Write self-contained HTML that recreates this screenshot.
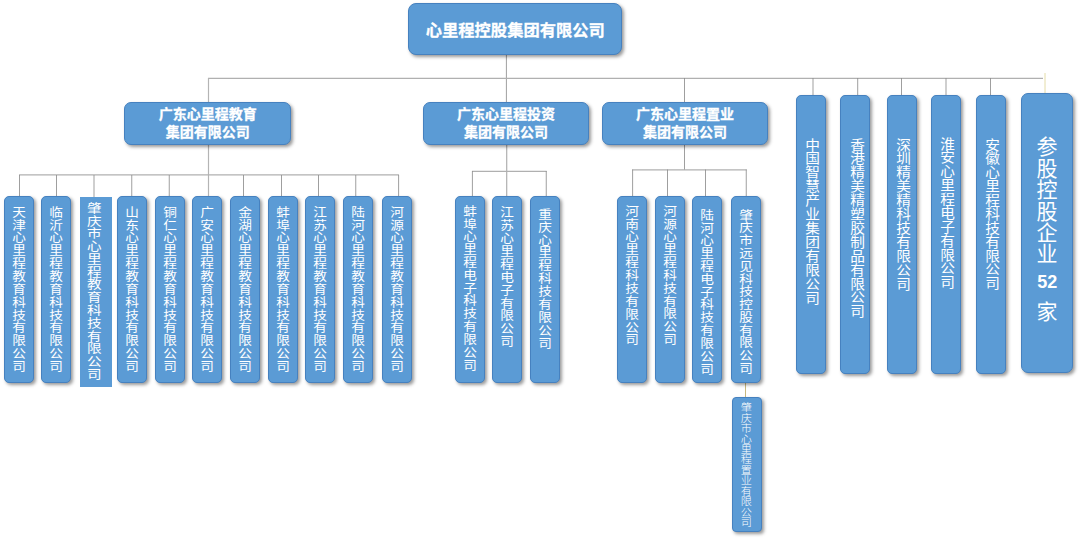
<!DOCTYPE html>
<html lang="zh-CN"><head><meta charset="utf-8"><title>心里程控股集团有限公司 组织架构</title>
<style>
html,body{margin:0;padding:0;background:#fff;}
body{width:1080px;height:540px;position:relative;overflow:hidden;font-family:"Liberation Sans","Noto Sans CJK SC",sans-serif;color:#fff;}
.b{position:absolute;box-sizing:border-box;background:#5b9bd5;border:1px solid #4681bf;border-radius:5px;box-shadow:2px 2px 3.5px rgba(0,0,0,.4);}
.h{padding-top:1.3px;-webkit-text-stroke:0.3px #fff;display:flex;align-items:center;justify-content:center;text-align:center;font-weight:bold;}
.v{position:absolute;writing-mode:vertical-rl;text-orientation:upright;white-space:nowrap;font-size:14px;line-height:30px;width:30px;text-align:left;font-weight:400;}
.g{border-radius:4px;}
.sq{border-radius:0;box-shadow:none;border:none;background:#5b9bd5;}
</style></head><body>

<svg width="1080" height="540" viewBox="0 0 1080 540" style="position:absolute;left:0;top:0;"><line x1="506.4" y1="54" x2="506.4" y2="102" stroke="#8e8e8e" stroke-width="0.85"/><line x1="208" y1="78.4" x2="1043" y2="78.4" stroke="#b0b0b0" stroke-width="1.3"/><line x1="208.5" y1="78" x2="208.5" y2="196" stroke="#b4b4b4" stroke-width="1.2"/><line x1="684.5" y1="78" x2="684.5" y2="170" stroke="#8e8e8e" stroke-width="0.85"/><line x1="813" y1="78" x2="813" y2="96" stroke="#8e8e8e" stroke-width="0.85"/><line x1="857.7" y1="78" x2="857.7" y2="96" stroke="#8e8e8e" stroke-width="0.85"/><line x1="901.5" y1="78" x2="901.5" y2="96" stroke="#8e8e8e" stroke-width="0.85"/><line x1="946" y1="78" x2="946" y2="96" stroke="#8e8e8e" stroke-width="0.85"/><line x1="990.5" y1="78" x2="990.5" y2="96" stroke="#8e8e8e" stroke-width="0.85"/><line x1="1045" y1="73" x2="1045" y2="95" stroke="#e4dca8" stroke-width="1"/><line x1="19" y1="174.8" x2="399" y2="174.8" stroke="#b0b0b0" stroke-width="1.3"/><line x1="19.5" y1="175" x2="19.5" y2="197" stroke="#8e8e8e" stroke-width="0.85"/><line x1="56.5" y1="175" x2="56.5" y2="197" stroke="#8e8e8e" stroke-width="0.85"/><line x1="94" y1="175" x2="94" y2="197" stroke="#8e8e8e" stroke-width="0.85"/><line x1="131.75" y1="175" x2="131.75" y2="197" stroke="#8e8e8e" stroke-width="0.85"/><line x1="169.25" y1="175" x2="169.25" y2="197" stroke="#8e8e8e" stroke-width="0.85"/><line x1="243.5" y1="175" x2="243.5" y2="197" stroke="#8e8e8e" stroke-width="0.85"/><line x1="281.5" y1="175" x2="281.5" y2="197" stroke="#8e8e8e" stroke-width="0.85"/><line x1="318.5" y1="175" x2="318.5" y2="197" stroke="#8e8e8e" stroke-width="0.85"/><line x1="355.75" y1="175" x2="355.75" y2="197" stroke="#8e8e8e" stroke-width="0.85"/><line x1="398.6" y1="175" x2="398.6" y2="197" stroke="#8e8e8e" stroke-width="0.85"/><line x1="506.75" y1="144" x2="506.75" y2="197" stroke="#8e8e8e" stroke-width="0.85"/><line x1="472" y1="171.3" x2="546.7" y2="171.3" stroke="#b0b0b0" stroke-width="1.3"/><line x1="472.4" y1="171" x2="472.4" y2="197" stroke="#8e8e8e" stroke-width="0.85"/><line x1="546.25" y1="171" x2="546.25" y2="197" stroke="#8e8e8e" stroke-width="0.85"/><line x1="632.2" y1="169.85" x2="746.7" y2="169.85" stroke="#b0b0b0" stroke-width="1.3"/><line x1="632.6" y1="169.5" x2="632.6" y2="197" stroke="#8e8e8e" stroke-width="0.85"/><line x1="667.5" y1="169.5" x2="667.5" y2="197" stroke="#8e8e8e" stroke-width="0.85"/><line x1="705.5" y1="169.5" x2="705.5" y2="197" stroke="#8e8e8e" stroke-width="0.85"/><line x1="746.25" y1="169.5" x2="746.25" y2="197" stroke="#8e8e8e" stroke-width="0.85"/><line x1="745.5" y1="382" x2="745.5" y2="398" stroke="#c9b97e" stroke-width="1"/></svg>
<div class="b h" style="left:408.3px;top:3.2px;width:213.99999999999994px;height:51.8px;border-radius:8px;font-size:16.3px;line-height:20px;">心里程控股集团有限公司</div>
<div class="b h" style="left:124.25px;top:101.5px;width:167.0px;height:43.0px;border-radius:7px;font-size:14px;line-height:17.5px;">广东心里程教育<br>集团有限公司</div>
<div class="b h" style="left:423px;top:101.5px;width:166px;height:43.0px;border-radius:7px;font-size:14px;line-height:17.5px;">广东心里程投资<br>集团有限公司</div>
<div class="b h" style="left:602px;top:101.5px;width:166px;height:43.0px;border-radius:7px;font-size:14px;line-height:17.5px;">广东心里程置业<br>集团有限公司</div>
<div class="b " style="left:4px;top:196.25px;width:30px;height:186.25px;"></div>
<div class="v" style="left:3px;top:205.53px;width:30px;line-height:30px;font-size:12.2px;letter-spacing:0.66px;transform:scaleX(1.12);">天津心里程教育科技有限公司</div>
<div class="b " style="left:41.25px;top:196.25px;width:30.0px;height:186.25px;"></div>
<div class="v" style="left:40.25px;top:205.53px;width:30.0px;line-height:30.0px;font-size:12.2px;letter-spacing:0.66px;transform:scaleX(1.12);">临沂心里程教育科技有限公司</div>
<div class="b " style="left:117px;top:196.25px;width:30px;height:186.25px;"></div>
<div class="v" style="left:116px;top:205.53px;width:30px;line-height:30px;font-size:12.2px;letter-spacing:0.66px;transform:scaleX(1.12);">山东心里程教育科技有限公司</div>
<div class="b " style="left:154.5px;top:196.25px;width:30.0px;height:186.25px;"></div>
<div class="v" style="left:153.5px;top:205.53px;width:30.0px;line-height:30.0px;font-size:12.2px;letter-spacing:0.66px;transform:scaleX(1.12);">铜仁心里程教育科技有限公司</div>
<div class="b " style="left:192px;top:196.25px;width:30px;height:186.25px;"></div>
<div class="v" style="left:191px;top:205.53px;width:30px;line-height:30px;font-size:12.2px;letter-spacing:0.66px;transform:scaleX(1.12);">广安心里程教育科技有限公司</div>
<div class="b " style="left:230px;top:196.25px;width:30px;height:186.25px;"></div>
<div class="v" style="left:229px;top:205.53px;width:30px;line-height:30px;font-size:12.2px;letter-spacing:0.66px;transform:scaleX(1.12);">金湖心里程教育科技有限公司</div>
<div class="b " style="left:267.5px;top:196.25px;width:30.0px;height:186.25px;"></div>
<div class="v" style="left:266.5px;top:205.53px;width:30.0px;line-height:30.0px;font-size:12.2px;letter-spacing:0.66px;transform:scaleX(1.12);">蚌埠心里程教育科技有限公司</div>
<div class="b " style="left:305px;top:196.25px;width:30px;height:186.25px;"></div>
<div class="v" style="left:304px;top:205.53px;width:30px;line-height:30px;font-size:12.2px;letter-spacing:0.66px;transform:scaleX(1.12);">江苏心里程教育科技有限公司</div>
<div class="b " style="left:343px;top:196.25px;width:30px;height:186.25px;"></div>
<div class="v" style="left:342px;top:205.53px;width:30px;line-height:30px;font-size:12.2px;letter-spacing:0.66px;transform:scaleX(1.12);">陆河心里程教育科技有限公司</div>
<div class="b " style="left:381.5px;top:196.25px;width:30.0px;height:186.25px;"></div>
<div class="v" style="left:380.5px;top:205.53px;width:30.0px;line-height:30.0px;font-size:12.2px;letter-spacing:0.66px;transform:scaleX(1.12);">河源心里程教育科技有限公司</div>
<div class="b sq" style="left:79.7px;top:197px;width:31.89999999999999px;height:189.5px;"></div>
<div class="v" style="left:75.7px;top:201.89px;width:31.89999999999999px;line-height:31.89999999999999px;font-size:12.2px;letter-spacing:0.59px;transform:scaleX(1.2);">肇庆市心里程教育科技有限公司</div>
<div class="b " style="left:454.5px;top:196.25px;width:30.0px;height:186.25px;"></div>
<div class="v" style="left:453.5px;top:205.11px;width:30.0px;line-height:30.0px;font-size:12.2px;letter-spacing:0.62px;transform:scaleX(1.12);">蚌埠心里程电子科技有限公司</div>
<div class="b " style="left:492px;top:196.25px;width:30px;height:186.25px;"></div>
<div class="v" style="left:491px;top:206.29px;width:30px;line-height:30px;font-size:12.2px;letter-spacing:0.77px;transform:scaleX(1.12);">江苏心里程电子有限公司</div>
<div class="b " style="left:530px;top:196.25px;width:30px;height:186.25px;"></div>
<div class="v" style="left:529px;top:207.75px;width:30px;line-height:30px;font-size:12.2px;letter-spacing:0.70px;transform:scaleX(1.12);">重庆心里程科技有限公司</div>
<div class="b " style="left:617px;top:196.25px;width:30px;height:186.25px;"></div>
<div class="v" style="left:616px;top:205.14px;width:30px;line-height:30px;font-size:12.2px;letter-spacing:0.67px;transform:scaleX(1.12);">河南心里程科技有限公司</div>
<div class="b " style="left:654.5px;top:196.25px;width:30.0px;height:186.25px;"></div>
<div class="v" style="left:653.5px;top:205.11px;width:30.0px;line-height:30.0px;font-size:12.2px;letter-spacing:0.63px;transform:scaleX(1.12);">河源心里程科技有限公司</div>
<div class="b " style="left:691.75px;top:196.25px;width:30.0px;height:186.25px;"></div>
<div class="v" style="left:690.75px;top:208.81px;width:30.0px;line-height:30.0px;font-size:12.2px;letter-spacing:0.62px;transform:scaleX(1.12);">陆河心里程电子科技有限公司</div>
<div class="b " style="left:730.5px;top:196.25px;width:30.0px;height:186.25px;"></div>
<div class="v" style="left:729.5px;top:208.78px;width:30.0px;line-height:30.0px;font-size:12.2px;letter-spacing:0.56px;transform:scaleX(1.12);">肇庆市远见科技控股有限公司</div>
<div class="b g" style="left:731.5px;top:397.3px;width:30.799999999999955px;height:134.99999999999994px;"></div>
<div class="v" style="left:729.5px;top:402.17px;width:30.799999999999955px;line-height:30.799999999999955px;font-size:10.5px;letter-spacing:-0.07px;font-weight:300;transform:scaleX(1.06);">肇庆市心里程置业有限公司</div>
<div class="b " style="left:796px;top:94.7px;width:30px;height:279.3px;"></div>
<div class="v" style="left:795.7px;top:137.61px;width:30px;line-height:30px;font-size:13.1px;letter-spacing:0.83px;transform:scaleX(1.12);">中国智慧产业集团有限公司</div>
<div class="b " style="left:840.2px;top:94.7px;width:30.0px;height:279.3px;"></div>
<div class="v" style="left:840.7px;top:137.90px;width:30.0px;line-height:30.0px;font-size:13.1px;letter-spacing:0.80px;transform:scaleX(1.12);">香港精美精塑胶制品有限公司</div>
<div class="b " style="left:887px;top:94.7px;width:30px;height:279.3px;"></div>
<div class="v" style="left:886.7px;top:137.93px;width:30px;line-height:30px;font-size:13.1px;letter-spacing:0.85px;transform:scaleX(1.12);">深圳精美精科技有限公司</div>
<div class="b " style="left:931px;top:94.7px;width:30px;height:279.3px;"></div>
<div class="v" style="left:930.7px;top:136.69px;width:30px;line-height:30px;font-size:13.1px;letter-spacing:0.78px;transform:scaleX(1.12);">淮安心里程电子有限公司</div>
<div class="b " style="left:976px;top:94.7px;width:30px;height:279.3px;"></div>
<div class="v" style="left:975.7px;top:137.89px;width:30px;line-height:30px;font-size:13.1px;letter-spacing:0.78px;transform:scaleX(1.12);">安徽心里程科技有限公司</div>
<div class="b" style="left:1021.2px;top:93px;width:51.9px;height:280px;border-radius:7px;"></div>
<div class="v" style="left:1019.3px;top:135.8px;width:51.7px;line-height:51.7px;font-size:21px;letter-spacing:0.4px;">参股控股企业</div>
<div style="position:absolute;left:1021.3px;top:271px;width:51.7px;text-align:center;font-size:18px;line-height:22px;font-weight:bold;">52</div>
<div class="v" style="left:1019.3px;top:301px;width:51.7px;line-height:51.7px;font-size:21px;">家</div>
</body></html>
